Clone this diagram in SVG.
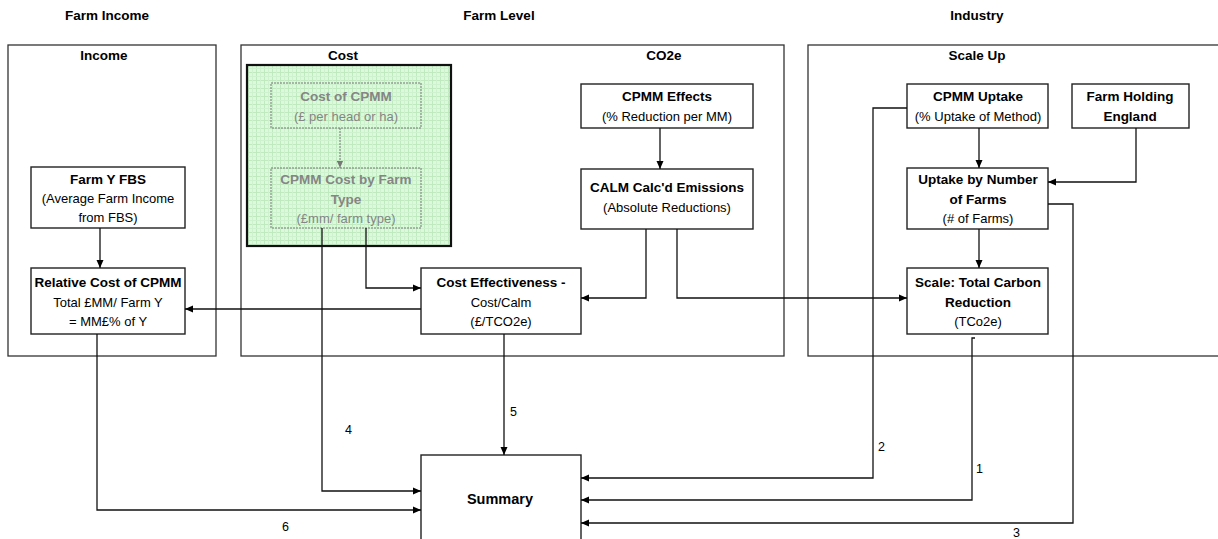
<svg xmlns="http://www.w3.org/2000/svg" width="1218" height="539" viewBox="0 0 1218 539">
<style>
text{font-family:"Liberation Sans",Arial,sans-serif;font-size:13px;fill:#000;text-anchor:middle}
.b{font-weight:bold;font-size:13.5px}
.g{fill:#858585}
.frame{fill:none;stroke:#333;stroke-width:1.3}
.box{fill:#fff;stroke:#222;stroke-width:1.4}
.dbox{fill:none;stroke:#777;stroke-width:1;stroke-dasharray:2,1}
.c{fill:none;stroke:#111;stroke-width:1.3}
.lbl{text-anchor:start;font-size:12.5px}
</style>
<defs>
<marker id="ah" viewBox="0 0 8 8" refX="8" refY="4" markerWidth="8" markerHeight="8" markerUnits="userSpaceOnUse" orient="auto">
<path d="M0,0.5 L8,4 L0,7.5 Z" fill="#000"/>
</marker>
<marker id="ahg" viewBox="0 0 8 8" refX="8" refY="4" markerWidth="7" markerHeight="7" markerUnits="userSpaceOnUse" orient="auto">
<path d="M0,0.5 L8,4 L0,7.5 Z" fill="#777"/>
</marker>
<pattern id="grid" width="8" height="8" patternUnits="userSpaceOnUse">
<rect width="8" height="8" fill="#dcf9dc"/>
<path d="M0,0.5 H8 M0.5,0 V8" stroke="#bfeabf" stroke-width="1"/>
<path d="M0,4.5 H8 M4.5,0 V8" stroke="#cef2ce" stroke-width="1"/>
</pattern>
</defs>

<g id="headers">
<text class="b" x="107" y="20">Farm Income</text>
<text class="b" x="499" y="20">Farm Level</text>
<text class="b" x="977" y="20">Industry</text>
</g>

<g id="frame-income">
<rect class="frame" x="8" y="45" width="208" height="311"/>
<text class="b" x="104" y="60">Income</text>
</g>
<g id="frame-farmlevel">
<rect class="frame" x="241" y="45" width="543" height="311"/>
<text class="b" x="343" y="60">Cost</text>
<text class="b" x="664" y="60">CO2e</text>
</g>
<g id="frame-industry">
<rect class="frame" x="808" y="45" width="420" height="311"/>
<text class="b" x="977" y="60">Scale Up</text>
</g>

<g id="cost-group">
<rect x="247" y="65" width="204" height="181" fill="url(#grid)" stroke="#111" stroke-width="2.2"/>
</g>

<g id="farm-y-fbs">
<rect class="box" x="31" y="167" width="154" height="61"/>
<text class="b" x="108" y="184">Farm Y FBS</text>
<text x="108" y="203">(Average Farm Income</text>
<text x="108" y="222">from FBS)</text>
</g>
<g id="relative-cost">
<rect class="box" x="31" y="268" width="154" height="66"/>
<text class="b" x="108" y="287">Relative Cost of CPMM</text>
<text x="108" y="307">Total £MM/ Farm Y</text>
<text x="108" y="326">= MM£% of Y</text>
</g>
<g id="cost-of-cpmm">
<rect class="dbox" x="271" y="83" width="150" height="45"/>
<text class="b g" x="346" y="101">Cost of CPMM</text>
<text class="g" x="346" y="121">(£ per head or ha)</text>
</g>
<g id="cpmm-cost-farm-type">
<rect class="dbox" x="271" y="168" width="150" height="60"/>
<text class="b g" x="346" y="184">CPMM Cost by Farm</text>
<text class="b g" x="346" y="204">Type</text>
<text class="g" x="346" y="223">(£mm/ farm type)</text>
</g>
<g id="cpmm-effects">
<rect class="box" x="581" y="84" width="172" height="44"/>
<text class="b" x="667" y="101">CPMM Effects</text>
<text x="667" y="121">(% Reduction per MM)</text>
</g>
<g id="calm-emissions">
<rect class="box" x="581" y="169" width="172" height="60"/>
<text class="b" x="667" y="192">CALM Calc'd Emissions</text>
<text x="667" y="212">(Absolute Reductions)</text>
</g>
<g id="cost-effectiveness">
<rect class="box" x="421" y="268" width="160" height="66"/>
<text class="b" x="501" y="287">Cost Effectiveness -</text>
<text x="501" y="307">Cost/Calm</text>
<text x="501" y="326">(£/TCO2e)</text>
</g>
<g id="cpmm-uptake">
<rect class="box" x="907" y="84" width="141" height="44"/>
<text class="b" x="978" y="101">CPMM Uptake</text>
<text x="978" y="121">(% Uptake of Method)</text>
</g>
<g id="farm-holding">
<rect class="box" x="1072" y="84" width="117" height="44"/>
<text class="b" x="1130" y="101">Farm Holding</text>
<text class="b" x="1130" y="121">England</text>
</g>
<g id="uptake-number">
<rect class="box" x="907" y="168" width="141" height="61"/>
<text class="b" x="978" y="184">Uptake by Number</text>
<text class="b" x="978" y="204">of Farms</text>
<text x="978" y="223">(# of Farms)</text>
</g>
<g id="scale-total">
<rect class="box" x="907" y="268" width="141" height="66"/>
<text class="b" x="978" y="287">Scale: Total Carbon</text>
<text class="b" x="978" y="307">Reduction</text>
<text x="978" y="326">(TCo2e)</text>
</g>
<g id="summary">
<rect class="box" x="421" y="455" width="160" height="100"/>
<text class="b" x="500" y="504" style="font-size:14.5px">Summary</text>
</g>

<g id="connectors">
<path d="M340,128 V168" fill="none" stroke="#777" stroke-width="1" stroke-dasharray="2,1" marker-end="url(#ahg)"/>
<path class="c" d="M100,228 V268" marker-end="url(#ah)"/>
<path class="c" d="M366,228 V288 H421" marker-end="url(#ah)"/>
<path class="c" d="M421,309 H185" marker-end="url(#ah)"/>
<path class="c" d="M660,128 V169" marker-end="url(#ah)"/>
<path class="c" d="M646,229 V298 H581" marker-end="url(#ah)"/>
<path class="c" d="M677,229 V298 H907" marker-end="url(#ah)"/>
<path class="c" d="M979,128 V168" marker-end="url(#ah)"/>
<path class="c" d="M1136,128 V182 H1048" marker-end="url(#ah)"/>
<path class="c" d="M979,229 V268" marker-end="url(#ah)"/>
<path class="c" d="M504,334 V455" marker-end="url(#ah)"/>
<path class="c" d="M322,228 V491 H421" marker-end="url(#ah)"/>
<path class="c" d="M97,334 V510 H421" marker-end="url(#ah)"/>
<path class="c" d="M907,108 H873 V478 H581" marker-end="url(#ah)"/>
<path class="c" d="M975,338 H972 V500 H581" marker-end="url(#ah)"/>
<path class="c" d="M1048,204 H1073 V523 H581" marker-end="url(#ah)"/>
<text class="lbl" x="345" y="434">4</text>
<text class="lbl" x="510" y="416">5</text>
<text class="lbl" x="878" y="451">2</text>
<text class="lbl" x="976" y="473">1</text>
<text class="lbl" x="1013" y="537">3</text>
<text class="lbl" x="282" y="531">6</text>
</g>
</svg>
